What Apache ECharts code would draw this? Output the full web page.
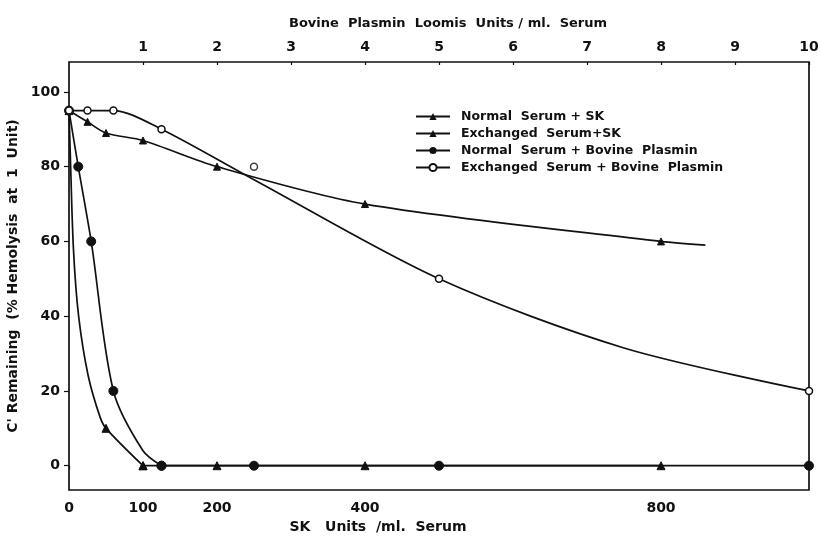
<!DOCTYPE html>
<html>
<head>
<meta charset="utf-8">
<script src="https://cdn.jsdelivr.net/npm/echarts@6/dist/echarts.min.js"></script>
<style>
html,body{margin:0;padding:0;background:#fff;}
#chart{width:820px;height:536px;}
</style>
</head>
<body>
<div id="chart"></div>
<script>
// ---- tick labels ----
const skTicks = [0, 100, 200, 400, 800];            // bottom axis: SK Units/ml
const plasminTicks = [1, 2, 3, 4, 5, 6, 7, 8, 9, 10]; // top axis: Bovine plasmin Loomis units/ml
const yTicks = [0, 20, 40, 60, 80, 100];

// ---- series names ----
const names = [
  'Normal  Serum + SK',
  'Exchanged  Serum+SK',
  'Normal  Serum + Bovine  Plasmin',
  'Exchanged  Serum + Bovine  Plasmin'
];

// Normal Serum + SK (SK units)
const normalSK_x = [0, 50, 100];
const normalSK_y = [95, 10, 0];
const normalSK_curveX = [1.5, 6, 13, 26, 42];      // points
const normalSK_curveY = [85, 58, 40, 24, 13];
const normalSK_zeroX = [100, 200, 400, 800];       // flat part on the zero line
const normalSK_zeroY = [0, 0, 0, 0];

// Exchanged Serum + SK (SK units)
const exchSK_x = [0, 25, 50, 100, 200, 400, 800];
const exchSK_y = [95, 92, 89, 87, 80, 70, 60];
const exchSK_curveX = [860];                       // end of drawn line
const exchSK_curveY = [59];

// Normal Serum + Bovine Plasmin (plasmin units)
const normalPl_x = [0, 0.125, 0.3, 0.6, 1.25];
const normalPl_y = [95, 80, 60, 20, 0];
const normalPl_curveX = [1.0];
const normalPl_curveY = [4];
const normalPl_zeroX = [1.25, 2.5, 5, 10];
const normalPl_zeroY = [0, 0, 0, 0];

// Exchanged Serum + Bovine Plasmin (plasmin units)
const exchPl_x = [0, 0.25, 0.6, 1.25, 5, 10];
const exchPl_y = [95, 95, 95, 90, 50, 20];
const exchPl_offX = [2.5];                         // measured point lying off the drawn curve
const exchPl_offY = [80];
const exchPl_curveX = [2.5, 7.5];
const exchPl_curveY = [76.5, 31.5];

function build(xs, ys, cx, cy) {
  const pts = xs.map((x, i) => ({ value: [x, ys[i]] }));
  (cx || []).forEach((x, i) => pts.push({ value: [x, cy[i]], symbol: 'none' }));
  pts.sort((a, b) => a.value[0] - b.value[0]);
  return pts;
}

const FONT = 'DejaVu Sans';
const INK = '#111';
const txt = { fontFamily: FONT, fontWeight: 'bold', color: INK };

const chart = echarts.init(document.getElementById('chart'), null, { renderer: 'canvas' });

const lineBase = {
  type: 'line',
  smooth: 0.3,
  lineStyle: { color: INK, width: 1.7 },
  itemStyle: { color: INK, borderColor: INK },
  emphasis: { disabled: true },
  animation: false
};

chart.setOption({
  animation: false,
  backgroundColor: '#fff',
  grid: {
    left: 69, right: 11, top: 62, bottom: 46,
    containLabel: false, outerBoundsMode: 'none',
    show: true, borderColor: INK, borderWidth: 1.7, backgroundColor: 'transparent'
  },
  legend: {
    data: names,
    orient: 'vertical',
    left: 415, top: 109, padding: 0,
    itemWidth: 34, itemHeight: 9, itemGap: 2,
    textStyle: Object.assign({ fontSize: 12.5, lineHeight: 15, padding: [0, 0, 0, 6] }, txt),
    selectedMode: false
  },
  xAxis: [
    {
      type: 'value', position: 'bottom', min: 0, max: 1000,
      name: 'SK   Units  /ml.  Serum', nameLocation: 'middle', nameGap: 30,
      nameTextStyle: Object.assign({ fontSize: 14, padding: [0, 122, 0, 0] }, txt),
      axisLine: { show: false },
      axisTick: { show: true, inside: false, length: 4, lineStyle: { color: INK, width: 1.2 }, customValues: skTicks },
      axisLabel: Object.assign({ fontSize: 14, margin: 11, customValues: skTicks }, txt),
      splitLine: { show: false }
    },
    {
      type: 'value', position: 'top', min: 0, max: 10,
      name: 'Bovine  Plasmin  Loomis  Units / ml.  Serum', nameLocation: 'middle', nameGap: 32,
      nameTextStyle: Object.assign({ fontSize: 13, padding: [0, 0, 0, 18] }, txt),
      axisLine: { show: false },
      axisTick: { show: true, inside: true, length: 3, lineStyle: { color: INK, width: 1.2 }, customValues: plasminTicks },
      axisLabel: Object.assign({ fontSize: 14, margin: 8, customValues: plasminTicks }, txt),
      splitLine: { show: false }
    }
  ],
  yAxis: {
    type: 'value', min: -6.5, max: 108,
    name: "C' Remaining  (% Hemolysis  at  1  Unit)", nameLocation: 'middle', nameGap: 38,
    nameTextStyle: Object.assign({ fontSize: 14 }, txt),
    axisLine: { show: false },
    axisTick: { show: true, inside: false, length: 5, lineStyle: { color: INK, width: 1.2 }, customValues: yTicks },
    axisLabel: Object.assign({ fontSize: 14, margin: 9, customValues: yTicks }, txt),
    splitLine: { show: false }
  },
  series: [
    Object.assign({}, lineBase, {
      name: names[0], xAxisIndex: 0, symbol: 'triangle', symbolSize: 8, z: 5,
      data: build(normalSK_x, normalSK_y, normalSK_curveX, normalSK_curveY)
    }),
    Object.assign({}, lineBase, {
      name: 'normalSK-zero', xAxisIndex: 0, symbol: 'triangle', symbolSize: 8, z: 5, smooth: false,
      data: build(normalSK_zeroX, normalSK_zeroY)
    }),
    Object.assign({}, lineBase, {
      name: names[1], xAxisIndex: 0, symbol: 'triangle', symbolSize: 7, z: 4,
      data: build(exchSK_x, exchSK_y, exchSK_curveX, exchSK_curveY)
    }),
    Object.assign({}, lineBase, {
      name: names[2], xAxisIndex: 1, symbol: 'circle', symbolSize: 9, z: 6,
      data: build(normalPl_x, normalPl_y, normalPl_curveX, normalPl_curveY)
    }),
    Object.assign({}, lineBase, {
      name: 'normalPl-zero', xAxisIndex: 1, symbol: 'circle', symbolSize: 9, z: 6, smooth: false,
      data: build(normalPl_zeroX, normalPl_zeroY)
    }),
    Object.assign({}, lineBase, {
      name: names[3], xAxisIndex: 1, symbol: 'circle', symbolSize: 7, z: 7,
      itemStyle: { color: '#fff', borderColor: INK, borderWidth: 1.5 },
      data: build(exchPl_x, exchPl_y, exchPl_curveX, exchPl_curveY)
    }),
    {
      type: 'scatter', name: 'offcurve', xAxisIndex: 1, symbol: 'circle', symbolSize: 7, z: 7,
      itemStyle: { color: '#fff', borderColor: INK, borderWidth: 1.5 },
      emphasis: { disabled: true }, animation: false,
      data: exchPl_offX.map((x, i) => [x, exchPl_offY[i]])
    }
  ]
});
</script>
</body>
</html>
